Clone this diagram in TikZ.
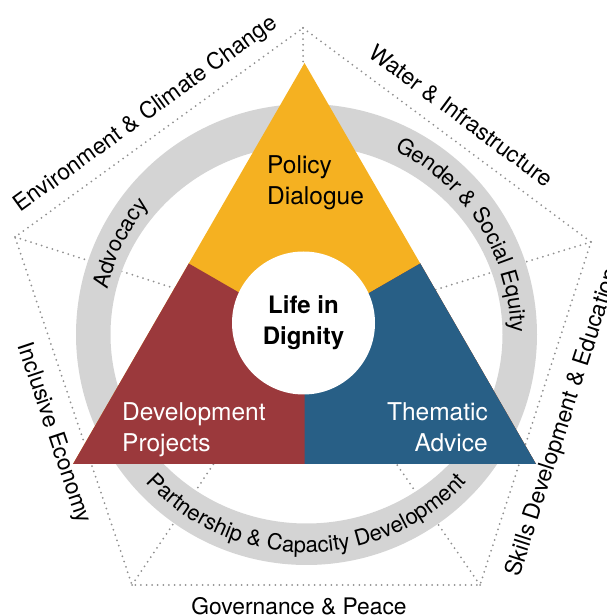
\documentclass[tikz,border=0pt]{standalone}
\usepackage{fontspec}
\setmainfont{TeX Gyre Heros}
\usetikzlibrary{calc,decorations.text}

\definecolor{policyyellow}{HTML}{F5B121}
\definecolor{projectred}{HTML}{9B393C}
\definecolor{adviceblue}{HTML}{285F86}
\definecolor{ringgray}{HTML}{D4D4D4}
\definecolor{dotgray}{HTML}{8F8F8F}
\newcommand\ringfont{\fontsize{22}{26}\selectfont}

\begin{document}
\begin{tikzpicture}[x=1pt, y=1pt,
  dots/.style={dotgray, line width=2pt, line cap=round, dash pattern=on 0pt off 5.6pt},
  edgelab/.style={font=\fontsize{22.8}{27}\selectfont, inner sep=0pt, text depth=0pt},
  mainlab/.style={font=\fontsize{24.5}{31}\selectfont, inner sep=0pt},
  ringtext/.style={decorate, decoration={text along path, text align=center, text={#1}}}]
  \useasboundingbox (0,0) rectangle (607,616);

  % pentagon of themes
  \coordinate (T) at (303,588);
  \coordinate (L) at (15,379);
  \coordinate (R) at (591,374);
  \coordinate (BL) at (132,31);
  \coordinate (BR) at (480,31);
  \coordinate (hub) at (304,286);
  \foreach \v in {T,L,R,BL,BR}
    \draw[dots] (\v) -- (hub);
  \draw[dots] (T) -- (R) -- (BR) -- (BL) -- (L) -- cycle;

  \path (L) -- (T) node[edgelab, midway, sloped, above=16pt] (envlab) {Environment \& Climate Change};
  \path (T) -- (R) node[edgelab, midway, sloped, above=16pt] (waterlab) {Water \& Infrastructure};
  \path (BR) -- (R) node[edgelab, pos=0.5, sloped, below=18pt] (skilllab) {Skills Development \& Education};
  \path (L) -- (BL) node[edgelab, pos=0.54, sloped, below=15pt] (econlab) {Inclusive Economy};
  \path (BL) -- (BR) node[edgelab, pos=0.48, below=12pt] (govlab) {Governance \& Peace};

  % ring
  \coordinate (O) at (306.5,281.5);
  \fill[ringgray, even odd rule] (O) circle[radius=230.5] (O) ellipse[x radius=196, y radius=189];
  \path[ringtext={|\ringfont|Advocacy}] ($(O)+(190:204)$) arc[start angle=190, end angle=118, radius=204];
  \path[ringtext={|\ringfont|Gender {\&} Social Equity}] ($(O)+(90:204)$) arc[start angle=90, end angle=-25, radius=204];
  \path[ringtext={|\ringfont|Partnership {\&} Capacity Development}] ($(O)+(200:218)$) arc[start angle=200, end angle=340, radius=218];

  % triangle
  \coordinate (A) at (304.5,553);
  \coordinate (Bl) at (73,152);
  \coordinate (Br) at (536,152);
  \coordinate (G) at (304.5,285.7);
  \fill[policyyellow] (A) -- (Br) -- (Bl) -- cycle;
  \fill[projectred] ($(A)!0.5!(Bl)$) -- (G) -- ($(A)!0.5!(Br)$) -- (Br) -- (Bl) -- cycle;
  \fill[adviceblue] ($(A)!0.5!(Br)$) -- (Br) -- ($(Bl)!0.5!(Br)$) -- (G) -- cycle;

  \node[circle, fill=white, minimum size=143pt, inner sep=0pt, align=center,
    font=\bfseries\fontsize{24}{31}\selectfont] (life) at (303.5,293) {Life in\\Dignity};

  \node[mainlab, anchor=north west, align=left] (policy) at (267,461) {Policy\\Dialogue};
  \node[mainlab, white, anchor=north west, align=left] (projects) at (122,214) {Development\\Projects};
  \node[mainlab, white, anchor=north east, align=right] (advice) at (488,214) {Thematic\\Advice};
\end{tikzpicture}
\end{document}
